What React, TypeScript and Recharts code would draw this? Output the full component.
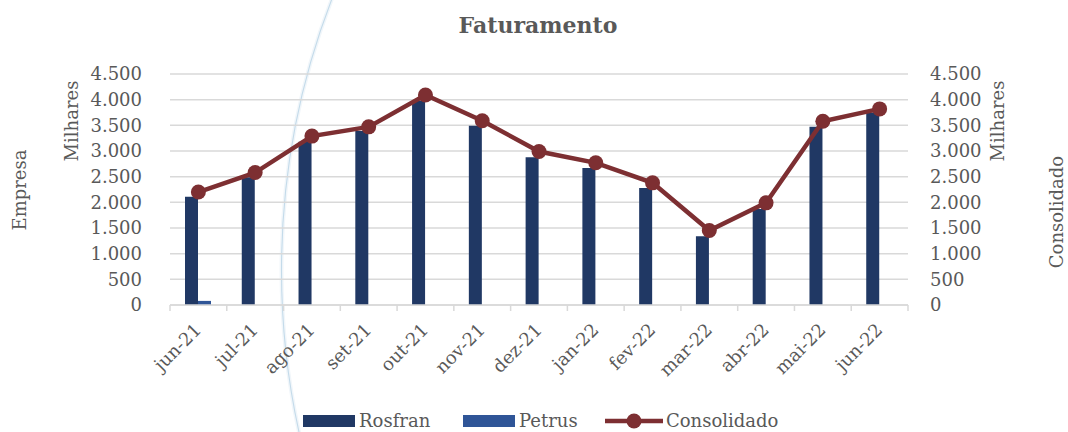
import React from 'react';
import { ComposedChart, Bar, Line, XAxis, YAxis, CartesianGrid } from 'recharts';

const categories = ['jun-21', 'jul-21', 'ago-21', 'set-21', 'out-21', 'nov-21', 'dez-21', 'jan-22', 'fev-22', 'mar-22', 'abr-22', 'mai-22', 'jun-22'];
const rosfranValues = [2110, 2490, 3180, 3390, 3980, 3490, 2880, 2670, 2280, 1340, 1870, 3470, 3750];
const petrusValues = [80, 0, 0, 0, 0, 0, 0, 0, 0, 0, 0, 0, 0];
const consolidadoValues = [2200, 2580, 3290, 3470, 4090, 3590, 2990, 2770, 2380, 1450, 1990, 3580, 3820];
const yTicks = [0, 500, 1000, 1500, 2000, 2500, 3000, 3500, 4000, 4500];
const seriesNames = ['Rosfran', 'Petrus', 'Consolidado'];
const seriesColors = ['#203864', '#2F5597', '#7D2F32'];
const chartTitle = 'Faturamento';
const leftAxisTitle = 'Empresa';
const rightAxisTitle = 'Consolidado';
const unitLabel = 'Milhares';

const data = categories.map((c, i) => ({
  month: c,
  rosfran: rosfranValues[i],
  petrus: petrusValues[i],
  consolidado: consolidadoValues[i],
}));

const W = 1068;
const H = 432;
const MARGIN = { top: 74, right: 60, bottom: 0, left: 70 };
const Y_W = 100;
const X_H = 127;
const PLOT_W = W - MARGIN.left - MARGIN.right - 2 * Y_W;
const BAND = PLOT_W / categories.length;
const FONT = '"DejaVu Serif", serif';
const TEXT = '#595959';
const GRID = '#d9d9d9';

const fmt = (v: number) =>
  v >= 1000 ? `${Math.floor(v / 1000)}.${String(v % 1000).padStart(3, '0')}` : String(v);

const XTick = (props: any) => {
  const { x, y, payload, index } = props;
  const last = index === categories.length - 1;
  const tx = x + 4;
  const ty = y + 26;
  return (
    <g>
      <line x1={x - BAND / 2} x2={x - BAND / 2} y1={y} y2={y + 6} stroke={GRID} strokeWidth={1.5} />
      {last && <line x1={x + BAND / 2} x2={x + BAND / 2} y1={y} y2={y + 6} stroke={GRID} strokeWidth={1.5} />}
      <text x={tx} y={ty} textAnchor="end" transform={`rotate(-45, ${tx}, ${ty})`} fill={TEXT} fontFamily={FONT} fontSize={18}>
        {payload.value}
      </text>
    </g>
  );
};

export default function App() {
  return (
    <div style={{ position: 'absolute', left: 0, top: 0, width: W, height: H, background: '#fff', overflow: 'hidden' }}>
      <svg width={W} height={H} style={{ position: 'absolute', left: 0, top: 0 }}>
        <circle cx={1035.5} cy={270} r={754} fill="none" stroke="#f1f6fa" strokeWidth={4} />
        <circle cx={1035.5} cy={270} r={754} fill="none" stroke="#c4dbea" strokeWidth={1.1} />
      </svg>
      <div style={{ position: 'absolute', left: 0, top: 0 }}>
        <ComposedChart width={W} height={H} data={data} margin={MARGIN} barGap={0}>
          <CartesianGrid vertical={false} stroke={GRID} strokeWidth={1.5} yAxisId="left" />
          <XAxis
            dataKey="month"
            height={X_H}
            interval={0}
            tickLine={false}
            tickSize={0}
            tickMargin={0}
            axisLine={{ stroke: GRID, strokeWidth: 1.5 }}
            tick={<XTick />}
          />
          <YAxis
            yAxisId="left"
            width={Y_W}
            domain={[0, 4500]}
            ticks={yTicks}
            interval={0}
            tickFormatter={fmt}
            axisLine={false}
            tickLine={false}
            tickSize={0}
            tickMargin={28}
            tick={{ fill: TEXT, fontFamily: FONT, fontSize: 18 }}
          />
          <YAxis
            yAxisId="right"
            orientation="right"
            width={Y_W}
            domain={[0, 4500]}
            ticks={yTicks}
            interval={0}
            tickFormatter={fmt}
            axisLine={false}
            tickLine={false}
            tickSize={0}
            tickMargin={22}
            tick={{ fill: TEXT, fontFamily: FONT, fontSize: 18, textAnchor: 'start' }}
          />
          <Bar yAxisId="left" dataKey="rosfran" name={seriesNames[0]} fill={seriesColors[0]} barSize={13} isAnimationActive={false} />
          <Bar yAxisId="left" dataKey="petrus" name={seriesNames[1]} fill={seriesColors[1]} barSize={13} isAnimationActive={false} />
          <Line
            yAxisId="right"
            dataKey="consolidado"
            name={seriesNames[2]}
            stroke={seriesColors[2]}
            strokeWidth={4.5}
            dot={{ r: 7.5, fill: seriesColors[2], stroke: seriesColors[2], strokeWidth: 0 }}
            isAnimationActive={false}
          />
        </ComposedChart>
      </div>
      <svg width={W} height={H} style={{ position: 'absolute', left: 0, top: 0, pointerEvents: 'none' }}>
        <text x={538} y={33} textAnchor="middle" fill={TEXT} fontFamily={FONT} fontSize={22} fontWeight="bold">
          {chartTitle}
        </text>
        <text x={78} y={121} textAnchor="middle" transform="rotate(-90, 78, 121)" fill={TEXT} fontFamily={FONT} fontSize={18}>
          {unitLabel}
        </text>
        <text x={26} y={190} textAnchor="middle" transform="rotate(-90, 26, 190)" fill={TEXT} fontFamily={FONT} fontSize={18}>
          {leftAxisTitle}
        </text>
        <text x={1004} y={121} textAnchor="middle" transform="rotate(-90, 1004, 121)" fill={TEXT} fontFamily={FONT} fontSize={18}>
          {unitLabel}
        </text>
        <text x={1063} y={212} textAnchor="middle" transform="rotate(-90, 1063, 212)" fill={TEXT} fontFamily={FONT} fontSize={18}>
          {rightAxisTitle}
        </text>
        <rect x={303} y={415} width={52} height={12} fill={seriesColors[0]} />
        <text x={359} y={427} fill={TEXT} fontFamily={FONT} fontSize={18}>{seriesNames[0]}</text>
        <rect x={463} y={415} width={52} height={12} fill={seriesColors[1]} />
        <text x={519} y={427} fill={TEXT} fontFamily={FONT} fontSize={18}>{seriesNames[1]}</text>
        <line x1={605} x2={663} y1={421} y2={421} stroke={seriesColors[2]} strokeWidth={4.5} />
        <circle cx={634} cy={421} r={7.5} fill={seriesColors[2]} />
        <text x={666} y={427} fill={TEXT} fontFamily={FONT} fontSize={18}>{seriesNames[2]}</text>
      </svg>
    </div>
  );
}
